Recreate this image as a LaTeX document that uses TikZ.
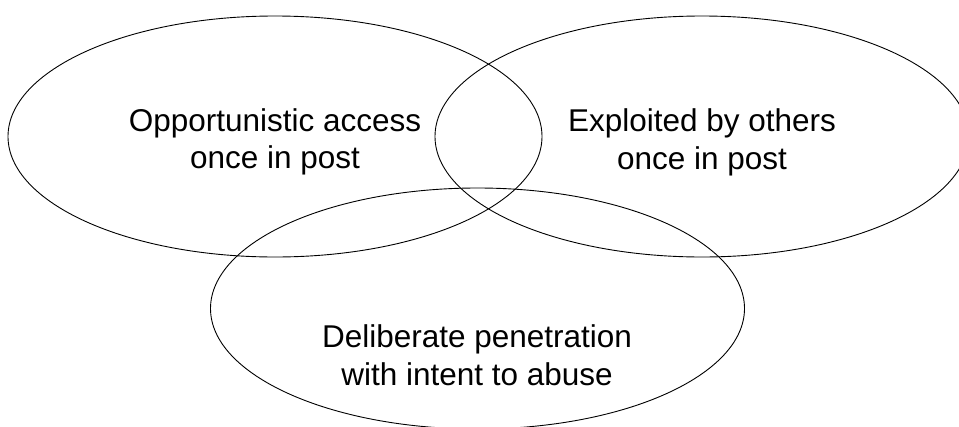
\documentclass[tikz,border=0pt]{standalone}
\usepackage{fontspec}
\setmainfont{Liberation Sans}
\usetikzlibrary{shapes.geometric}
\begin{document}
\begin{tikzpicture}[x=1pt,y=-1pt,
  ring/.style={draw=black,line width=0.9pt,ellipse,minimum width=534pt,minimum height=241pt,inner sep=0pt},
  label/.style={align=center,font=\fontsize{31.5}{37.5}\selectfont,inner sep=0pt}]
\useasboundingbox (0,0) rectangle (959,426);
\clip (0,0) rectangle (959,426);
\node[ring] (eA) at (275,136.5) {};
\node[ring] (eB) at (702,136.5) {};
\node[ring] (eC) at (477.5,308.5) {};
\node[label] (tA) at (275,142) {Opportunistic access\\once in post};
\node[label] (tB) at (702,142.5) {Exploited by others\\once in post};
\node[label] (tC) at (477,355) {Deliberate penetration\\with intent to abuse};
\end{tikzpicture}
\end{document}
